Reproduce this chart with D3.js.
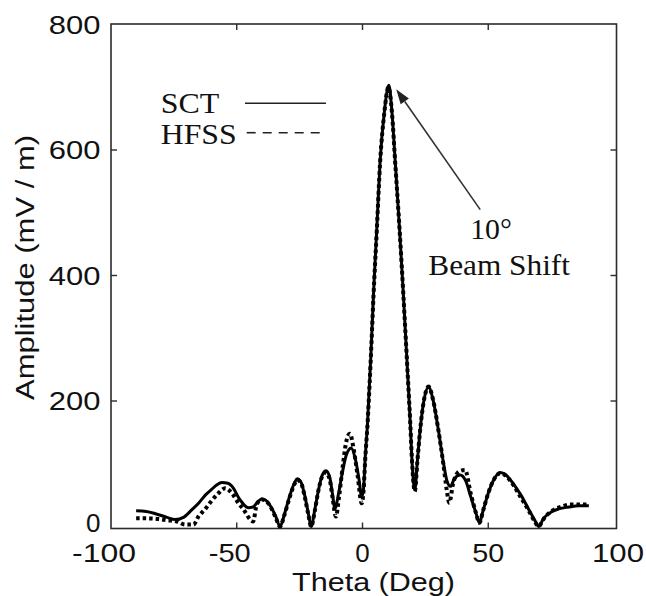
<!DOCTYPE html>
<html>
<head>
<meta charset="utf-8">
<script src="https://cdn.jsdelivr.net/npm/d3@7/dist/d3.min.js"></script>
<style>
  html, body { margin: 0; padding: 0; background: #fff; }
  svg { display: block; }
</style>
</head>
<body>
<svg id="chart" width="646" height="596"></svg>
<script>
// ---- data ----
const xTicks = [-100, -50, 0, 50, 100];
const yTicks = [0, 200, 400, 600, 800];
const xTickLabels = ["-100", "-50", "0", "50", "100"];
const yTickLabels = ["0", "200", "400", "600", "800"];

const sctTheta = [-90,-86,-82,-78,-74.5,-71,-67.8,-65,-62.5,-60,-58,-55.9,-53.5,-51.9,-48.6,-45.4,-43.5,-41.5,-40,-38.5,-36.5,-34.5,-32.8,-31,-29,-27,-26,-24.5,-23,-21.5,-20.4,-19,-17.5,-16,-14.5,-13,-11.8,-11,-9.5,-8,-6.5,-4.5,-3,-1.5,-0.3,0.4,1.1,2,3.3,4.4,5.7,7,8.7,10.5,11.7,13,14.7,16.2,17.6,19,19.6,20.8,21.8,22.9,24.3,26.3,28,30.2,32.2,33.5,35,36.5,38.8,41,43,45,46.5,48,50,52,54.8,57,60,63,66,68.5,70,72,75,78,82,86,90];
const sctAmp   = [25,24,20,15,11,15,27,38,50,59,66,70,69,64,42,30,31,40,44,42,32,16,0,20,48,70,76,71,50,20,0,26,58,82,89,78,48,28,53,86,113,125,110,78,47,60,111,164,270,373,476,582,661,703,661,582,476,373,270,164,111,58,103,153,198,222,203,153,101,74,64,76,82,73,48,23,6,26,53,73,86,82,68,50,28,10,0,13,23,28,31,33,33];

const hfssTheta = [-90,-86,-81,-77.8,-73.8,-70.5,-67.2,-65.2,-62.5,-60.2,-57.3,-54.6,-51.9,-49.3,-47.3,-44.6,-43.5,-42,-40,-38.5,-36.5,-34.5,-32.8,-31,-29,-27,-26,-24.5,-23,-21.5,-20.4,-19,-17.5,-16,-14.5,-13,-11.8,-10.6,-9.3,-7.8,-6.3,-5,-3.5,-2,-0.3,0.4,1.1,2,3.3,4.4,5.7,7,8.7,10.3,11.7,13,14.7,16.2,17.6,19,19.6,20.8,21.8,22.9,24.3,26.3,28,30.2,32.2,33.5,34.5,36,38.5,40.8,43,45,46.5,48,50,52,54.8,57,60,63,66,68.5,70,72,75,78.6,82.5,86,90];
const hfssAmp   = [13,13,12,10,8,3,3,16,28,40,53,61,53,37,27,11,8,36,43,41,31,14,0,19,46,68,74,70,48,18,0,24,58,80,86,74,43,16,48,98,138,148,123,83,37,56,108,163,268,370,473,580,660,700,660,580,476,373,270,164,111,56,103,153,198,223,203,153,98,58,38,68,88,90,53,23,6,26,53,73,85,81,66,46,26,8,0,12,24,31,35,35,35];

const legendLabels = ["SCT", "HFSS"];
const annotationLines = ["10°", "Beam Shift"];

// ---- layout ----
const svg = d3.select("#chart");
const x = d3.scaleLinear().domain([-100, 100]).range([111, 614]);
const y = d3.scaleLinear().domain([0, 800]).range([526.5, 24.5]);
const frame = { left: 111, right: 616.5, top: 24, bottom: 528.5 };
const sans = "Arial, 'Liberation Sans', Helvetica, sans-serif";
const serif = "'Times New Roman', 'Liberation Serif', Times, serif";
const axisColor = "#2b2b2b";

// frame
svg.append("rect")
  .attr("x", frame.left).attr("y", frame.top)
  .attr("width", frame.right - frame.left).attr("height", frame.bottom - frame.top)
  .attr("fill", "none").attr("stroke", axisColor).attr("stroke-width", 1.6);

// ticks (inward, all four sides)
const tickLen = 6;
const innerX = xTicks.filter(v => v > -100 && v < 100);
const innerY = yTicks.filter(v => v > 0 && v < 800);
const tg = svg.append("g").attr("stroke", axisColor).attr("stroke-width", 1.4);
innerX.forEach(v => {
  tg.append("line").attr("x1", x(v)).attr("x2", x(v)).attr("y1", frame.bottom).attr("y2", frame.bottom - tickLen);
  tg.append("line").attr("x1", x(v)).attr("x2", x(v)).attr("y1", frame.top).attr("y2", frame.top + tickLen);
});
innerY.forEach(v => {
  tg.append("line").attr("y1", y(v)).attr("y2", y(v)).attr("x1", frame.left).attr("x2", frame.left + tickLen);
  tg.append("line").attr("y1", y(v)).attr("y2", y(v)).attr("x1", frame.right).attr("x2", frame.right - tickLen);
});

// tick labels
const xLabelWidth = { "-100": 64, "-50": 42, "0": 0, "50": 32, "100": 52 };
xTicks.forEach((v, i) => {
  const lab = xTickLabels[i];
  const neg = v < 0;
  const t = svg.append("text")
    .attr("x", x(v) + (neg ? -7 : (v === 100 ? 4 : 0)))
    .attr("y", 561.5)
    .attr("text-anchor", "middle")
    .attr("font-family", sans).attr("font-size", 26).attr("fill", "#111")
    .text(lab);
  if (xLabelWidth[lab]) t.attr("textLength", xLabelWidth[lab]).attr("lengthAdjust", "spacingAndGlyphs");
});
yTicks.forEach((v, i) => {
  const lab = yTickLabels[i];
  const t = svg.append("text")
    .attr("x", 100.5)
    .attr("y", y(v) + (v === 0 ? 5.5 : 9.3))
    .attr("text-anchor", "end")
    .attr("font-family", sans).attr("font-size", 26).attr("fill", "#111")
    .text(lab);
  if (lab.length > 1) t.attr("textLength", 51.7).attr("lengthAdjust", "spacingAndGlyphs");
});

// axis titles
svg.append("text")
  .attr("x", 292).attr("y", 590.5)
  .attr("font-family", sans).attr("font-size", 25.5).attr("fill", "#111")
  .attr("textLength", 163).attr("lengthAdjust", "spacingAndGlyphs")
  .text("Theta (Deg)");
svg.append("text")
  .attr("transform", "translate(34,400) rotate(-90)")
  .attr("x", 0).attr("y", 0)
  .attr("font-family", sans).attr("font-size", 26).attr("fill", "#111")
  .attr("textLength", 265).attr("lengthAdjust", "spacingAndGlyphs")
  .text("Amplitude (mV / m)");

// curves
const line = d3.line().x(d => x(d[0])).y(d => y(d[1])).curve(d3.curveMonotoneX);
const sct = sctTheta.map((t, i) => [t, sctAmp[i]]);
const hfss = hfssTheta.map((t, i) => [t, hfssAmp[i]]);

svg.append("path").datum(sct)
  .attr("d", line).attr("fill", "none")
  .attr("stroke", "#000").attr("stroke-width", 3)
  .attr("stroke-linejoin", "round");
svg.append("path").datum(hfss)
  .attr("d", line).attr("fill", "none")
  .attr("stroke", "#000").attr("stroke-width", 4)
  .attr("stroke-dasharray", "3.5,3");

// legend
const legend = svg.append("g");
legend.append("text").attr("x", 160.7).attr("y", 113)
  .attr("font-family", serif).attr("font-size", 29).attr("fill", "#111")
  .attr("textLength", 58.6).attr("lengthAdjust", "spacingAndGlyphs")
  .text(legendLabels[0]);
legend.append("text").attr("x", 160.7).attr("y", 144)
  .attr("font-family", serif).attr("font-size", 29).attr("fill", "#111")
  .attr("textLength", 76).attr("lengthAdjust", "spacingAndGlyphs")
  .text(legendLabels[1]);
legend.append("line").attr("x1", 245).attr("x2", 326).attr("y1", 103.3).attr("y2", 103.3)
  .attr("stroke", "#222").attr("stroke-width", 1.6);
legend.append("line").attr("x1", 246.7).attr("x2", 326).attr("y1", 132.7).attr("y2", 132.7)
  .attr("stroke", "#222").attr("stroke-width", 1.6).attr("stroke-dasharray", "9,7");

// annotation
svg.append("text").attr("x", 491).attr("y", 239.3)
  .attr("text-anchor", "middle")
  .attr("font-family", serif).attr("font-size", 30).attr("fill", "#111")
  .attr("textLength", 41.7).attr("lengthAdjust", "spacingAndGlyphs")
  .text(annotationLines[0]);
svg.append("text").attr("x", 428.3).attr("y", 275)
  .attr("font-family", serif).attr("font-size", 30).attr("fill", "#111")
  .attr("textLength", 141.7).attr("lengthAdjust", "spacingAndGlyphs")
  .text(annotationLines[1]);

// arrow from label toward main beam peak
const tip = [x(13.4), y(697)];
const tail = [x(46.8), y(505)];
const ang = Math.atan2(tip[1] - tail[1], tip[0] - tail[0]);
const headLen = 15, headW = 5;
const base = [tip[0] - headLen * Math.cos(ang), tip[1] - headLen * Math.sin(ang)];
svg.append("line")
  .attr("x1", tail[0]).attr("y1", tail[1]).attr("x2", base[0]).attr("y2", base[1])
  .attr("stroke", "#333").attr("stroke-width", 1.6);
const p1 = [base[0] + headW * Math.sin(ang), base[1] - headW * Math.cos(ang)];
const p2 = [base[0] - headW * Math.sin(ang), base[1] + headW * Math.cos(ang)];
svg.append("path")
  .attr("d", `M${tip[0]},${tip[1]}L${p1[0]},${p1[1]}L${p2[0]},${p2[1]}Z`)
  .attr("fill", "#222");
</script>
</body>
</html>
